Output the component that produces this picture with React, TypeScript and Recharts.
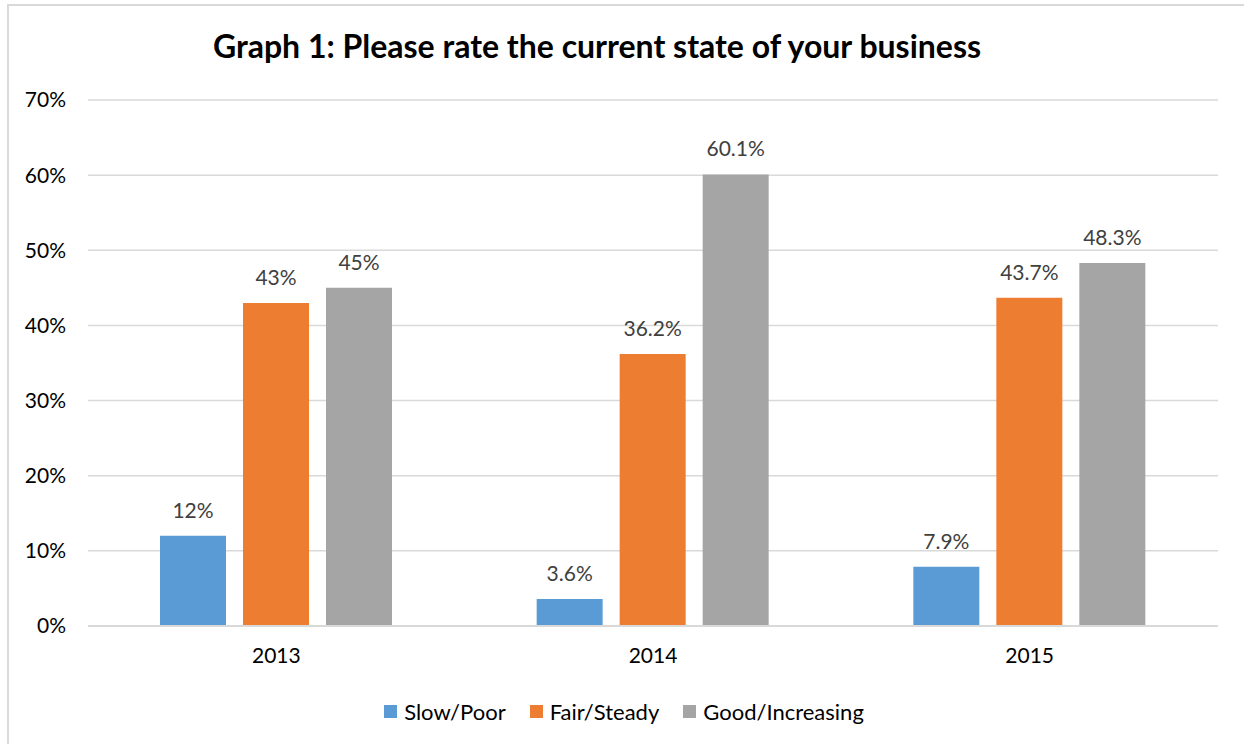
import { Bar, BarChart, CartesianGrid, LabelList, Legend, XAxis, YAxis } from 'recharts'

const years = ['2013', '2014', '2015']
const slowPoor = [12, 3.6, 7.9]
const fairSteady = [43, 36.2, 43.7]
const goodIncreasing = [45, 60.1, 48.3]
const yTicks = [0, 10, 20, 30, 40, 50, 60, 70]

const data = years.map((year, i) => ({
  year,
  slow: slowPoor[i],
  fair: fairSteady[i],
  good: goodIncreasing[i],
}))

const font = 'Lato, "Open Sans", sans-serif'

const series = [
  { key: 'slow', name: 'Slow/Poor', color: '#5B9BD5' },
  { key: 'fair', name: 'Fair/Steady', color: '#ED7D31' },
  { key: 'good', name: 'Good/Increasing', color: '#A5A5A5' },
]

function LegendContent() {
  return (
    <div style={{ display: 'flex', justifyContent: 'center', fontFamily: font, fontSize: 22, color: '#000', marginLeft: 30 }}>
      {series.map((s) => (
        <div key={s.key} style={{ display: 'flex', alignItems: 'center', margin: '0 12px' }}>
          <span style={{ width: 13, height: 13, background: s.color, marginRight: 7, display: 'inline-block' }} />
          <span>{s.name}</span>
        </div>
      ))}
    </div>
  )
}

export default function App() {
  return (
    <div style={{ position: 'absolute', left: 0, top: 0, width: 1244, height: 744, overflow: 'hidden', background: '#fff' }}>
      <div
        style={{
          position: 'absolute',
          left: 7,
          top: 4,
          width: 1260,
          height: 780,
          border: '2px solid #D9D9D9',
        }}
      />
      <div
        style={{
          position: 'absolute',
          left: 0,
          top: 26,
          width: 1194,
          textAlign: 'center',
          fontFamily: font,
          fontWeight: 700,
          fontSize: 32,
          color: '#000',
        }}
      >
        Graph 1: Please rate the current state of your business
      </div>
      <div style={{ position: 'absolute', left: 0, top: 0 }}>
        <BarChart
          width={1244}
          height={744}
          data={data}
          margin={{ top: 100, right: 26, left: 0, bottom: 16 }}
          barSize={66}
          barGap={17}
        >
          <CartesianGrid vertical={false} stroke="#D9D9D9" strokeWidth={1.5} />
          <XAxis
            dataKey="year"
            axisLine={{ stroke: '#D9D9D9', strokeWidth: 2 }}
            tickLine={false}
            tickMargin={16}
            height={72}
            tick={{ fill: '#000', fontSize: 21, fontFamily: font }}
          />
          <YAxis
            domain={[0, 70]}
            ticks={yTicks}
            width={88}
            axisLine={false}
            tickLine={false}
            tickMargin={16}
            tickFormatter={(v) => `${v}%`}
            tick={{ fill: '#000', fontSize: 21, fontFamily: font }}
          />
          <Legend verticalAlign="bottom" height={30} content={<LegendContent />} />
          {series.map((s) => (
            <Bar key={s.key} dataKey={s.key} name={s.name} fill={s.color} isAnimationActive={false}>
              <LabelList
                dataKey={s.key}
                position="top"
                offset={18}
                formatter={(v: any) => `${v}%`}
                style={{ fill: '#404040', fontSize: 21, fontFamily: font }}
              />
            </Bar>
          ))}
        </BarChart>
      </div>
    </div>
  )
}
